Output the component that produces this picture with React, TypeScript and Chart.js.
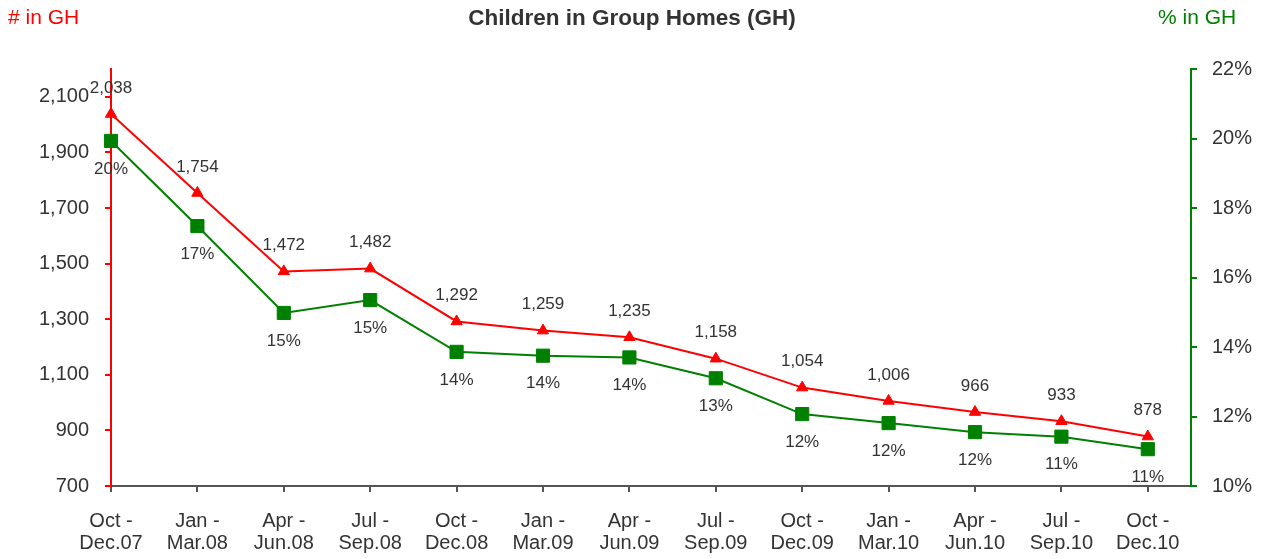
import React, { useEffect, useRef } from "react";
import { Chart, registerables } from "chart.js";

Chart.register(...registerables);

const categories: string[][] = [
  ["Oct -", "Dec.07"],
  ["Jan -", "Mar.08"],
  ["Apr -", "Jun.08"],
  ["Jul -", "Sep.08"],
  ["Oct -", "Dec.08"],
  ["Jan -", "Mar.09"],
  ["Apr -", "Jun.09"],
  ["Jul -", "Sep.09"],
  ["Oct -", "Dec.09"],
  ["Jan -", "Mar.10"],
  ["Apr -", "Jun.10"],
  ["Jul -", "Sep.10"],
  ["Oct -", "Dec.10"],
];

const countInGH: number[] = [2038, 1754, 1472, 1482, 1292, 1259, 1235, 1158, 1054, 1006, 966, 933, 878];
const pctInGH: number[] = [19.93, 17.48, 14.98, 15.35, 13.86, 13.75, 13.7, 13.1, 12.07, 11.81, 11.55, 11.42, 11.06];

const leftTicks: number[] = [700, 900, 1100, 1300, 1500, 1700, 1900, 2100];
const rightTicks: number[] = [10, 12, 14, 16, 18, 20, 22];

const TITLE = "Children in Group Homes (GH)";
const LEFT_TITLE = "# in GH";
const RIGHT_TITLE = "% in GH";

const FONT = "'Liberation Sans', Arial, sans-serif";
const TEXT = "#333333";
const RED = "#ff0000";
const GREEN = "#008000";

export default function App() {
  const ref = useRef<HTMLCanvasElement | null>(null);

  useEffect(() => {
    document.body.style.margin = "0";
    document.body.style.overflow = "hidden";
    if (!ref.current) return;

    const labelsPlugin = {
      id: "labelsPlugin",
      afterDatasetsDraw(chart: any) {
        const ctx = chart.ctx;
        ctx.save();
        ctx.font = `17px ${FONT}`;
        ctx.fillStyle = TEXT;
        ctx.textAlign = "center";
        ctx.textBaseline = "middle";
        chart.getDatasetMeta(0).data.forEach((p: any, i: number) => {
          ctx.fillText(countInGH[i].toLocaleString("en-US"), p.x, p.y - 26);
        });
        chart.getDatasetMeta(1).data.forEach((p: any, i: number) => {
          ctx.fillText(Math.round(pctInGH[i]) + "%", p.x, p.y + 28);
        });
        ctx.restore();
      },
      afterDraw(chart: any) {
        const ctx = chart.ctx;
        ctx.save();
        ctx.textBaseline = "middle";
        ctx.font = `bold 22.5px ${FONT}`;
        ctx.fillStyle = TEXT;
        ctx.textAlign = "center";
        ctx.fillText(TITLE, 632, 19);
        ctx.font = `21px ${FONT}`;
        ctx.fillStyle = RED;
        ctx.textAlign = "left";
        ctx.fillText(LEFT_TITLE, 8, 18);
        ctx.fillStyle = GREEN;
        ctx.fillText(RIGHT_TITLE, 1158, 18);
        ctx.restore();
      },
    };

    const chart = new Chart(ref.current, {
      type: "line",
      data: {
        datasets: [
          {
            label: LEFT_TITLE,
            data: countInGH.map((v, i) => ({ x: i, y: v })),
            yAxisID: "y",
            borderColor: RED,
            backgroundColor: RED,
            borderWidth: 2,
            pointStyle: "triangle",
            pointRadius: 6.5,
            pointBackgroundColor: RED,
            pointBorderColor: RED,
            pointBorderWidth: 1,
            tension: 0,
            clip: false,
          },
          {
            label: RIGHT_TITLE,
            data: pctInGH.map((v, i) => ({ x: i, y: v })),
            yAxisID: "y1",
            borderColor: GREEN,
            backgroundColor: GREEN,
            borderWidth: 2,
            pointStyle: "rect",
            pointRadius: 9.3,
            pointBackgroundColor: GREEN,
            pointBorderColor: GREEN,
            pointBorderWidth: 1,
            tension: 0,
            clip: false,
          },
        ],
      },
      options: {
        responsive: false,
        animation: false,
        layout: { padding: { top: 69, left: 0, right: 0, bottom: 0 } },
        plugins: {
          legend: { display: false },
          title: { display: false },
          tooltip: { enabled: false },
        },
        scales: {
          x: {
            type: "linear",
            min: 0,
            max: 12.5,
            afterBuildTicks: (scale: any) => {
              scale.ticks = categories.map((_, i) => ({ value: i }));
            },
            afterFit: (scale: any) => {
              scale.height = 73;
            },
            grid: {
              drawOnChartArea: false,
              drawTicks: true,
              tickLength: 6,
              tickColor: "#555555",
              lineWidth: 2,
            },
            border: { display: true, color: "#555555", width: 2 },
            ticks: {
              autoSkip: false,
              maxRotation: 0,
              padding: 18,
              color: TEXT,
              font: { family: FONT, size: 20, lineHeight: 1.1 },
              callback: (v: any) => categories[Math.round(Number(v))] || "",
            },
          },
          y: {
            type: "linear",
            position: "left",
            min: 700,
            max: 2200,
            afterBuildTicks: (scale: any) => {
              scale.ticks = leftTicks.map((v) => ({ value: v }));
            },
            afterFit: (scale: any) => {
              scale.width = 111;
            },
            grid: {
              drawOnChartArea: false,
              drawTicks: true,
              tickLength: 6,
              tickColor: RED,
              lineWidth: 2,
            },
            border: { display: true, color: RED, width: 2 },
            ticks: {
              padding: 16,
              color: TEXT,
              font: { family: FONT, size: 20 },
              callback: (v: any) => Number(v).toLocaleString("en-US"),
            },
          },
          y1: {
            type: "linear",
            position: "right",
            min: 10,
            max: 22,
            afterBuildTicks: (scale: any) => {
              scale.ticks = rightTicks.map((v) => ({ value: v }));
            },
            afterFit: (scale: any) => {
              scale.width = 78;
            },
            grid: {
              drawOnChartArea: false,
              drawTicks: true,
              tickLength: 6,
              tickColor: GREEN,
              lineWidth: 2,
            },
            border: { display: true, color: GREEN, width: 2 },
            ticks: {
              padding: 15,
              color: TEXT,
              font: { family: FONT, size: 20 },
              callback: (v: any) => v + "%",
            },
          },
        },
      },
      plugins: [labelsPlugin],
    } as any);

    return () => chart.destroy();
  }, []);

  return (
    <div style={{ width: 1269, height: 559, position: "relative", background: "#fff" }}>
      <canvas ref={ref} width={1269} height={559} style={{ display: "block" }} />
    </div>
  );
}
